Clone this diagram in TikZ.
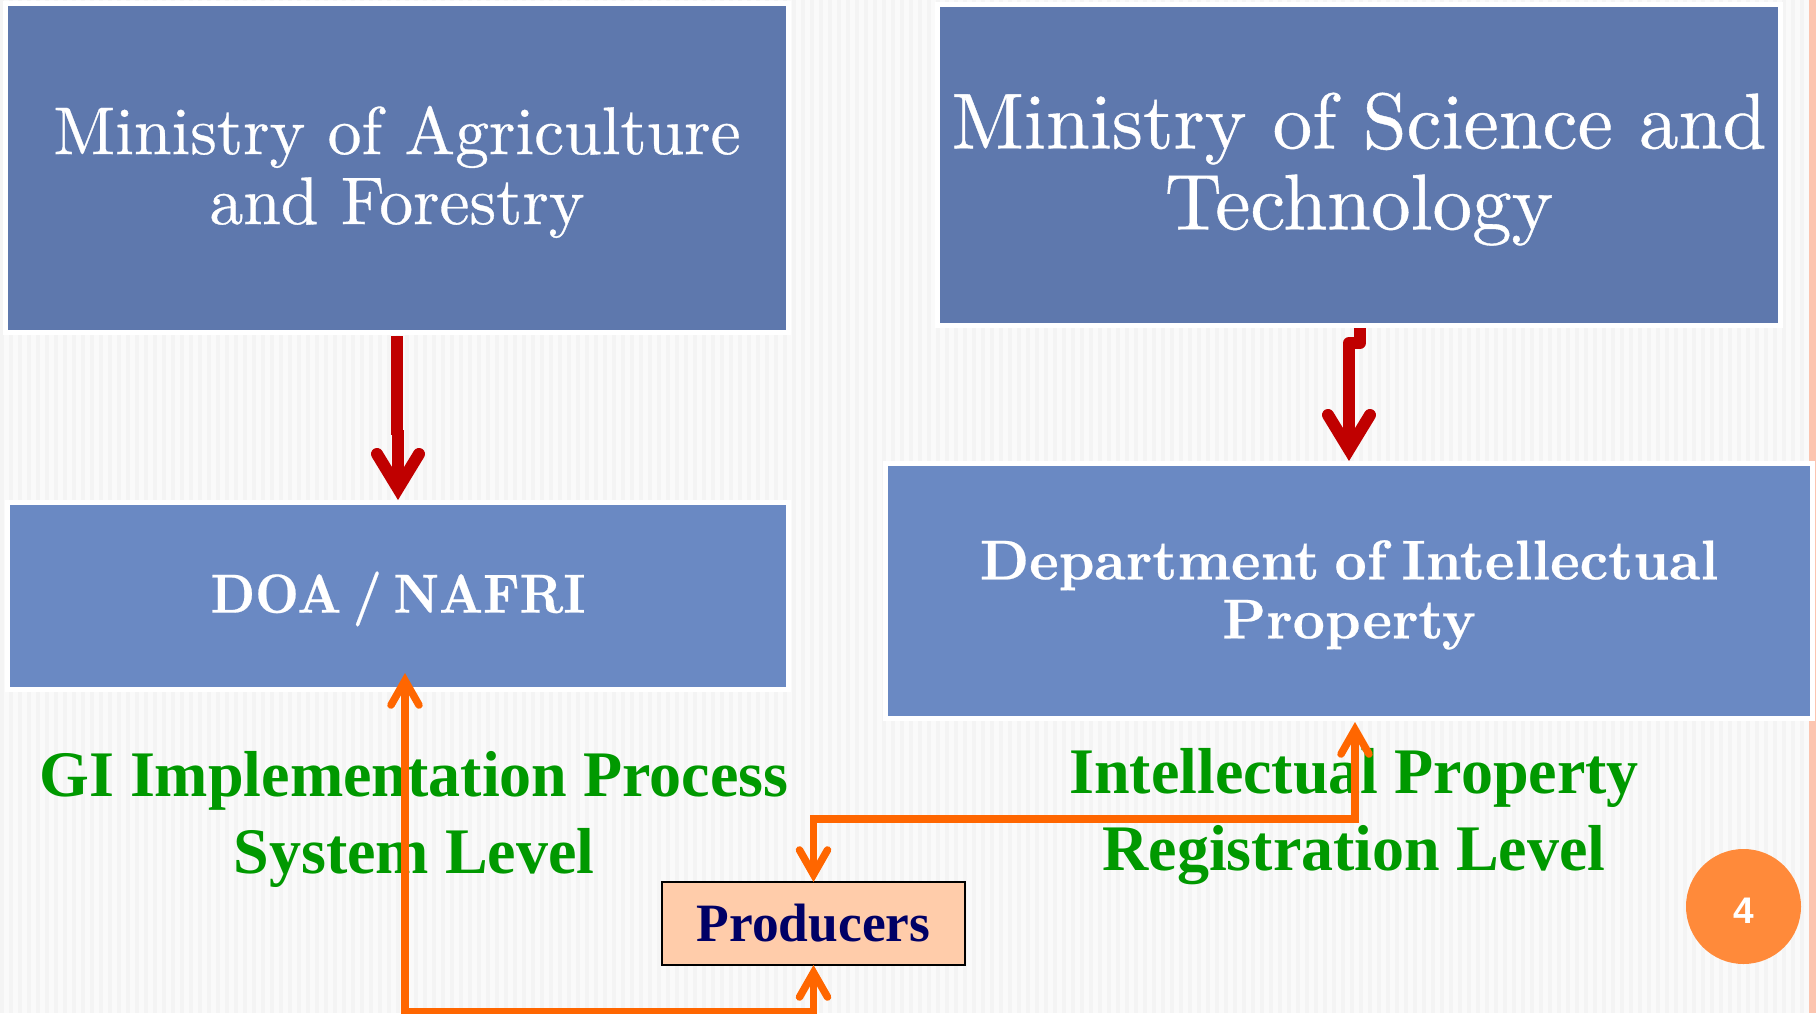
\documentclass[tikz,border=0pt]{standalone}
\usepackage{fontspec}
\usetikzlibrary{arrows.meta,calc}
\newfontfamily\lmface[FakeBold=0.5]{lmroman10-regular.otf}
\newfontfamily\lmdept[BoldFont=lmroman10-bold.otf,BoldFeatures={WordSpace=0.7,FakeBold=0.4}]{lmroman10-regular.otf}
\newfontfamily\lmdoa[BoldFont=lmroman10-bold.otf,BoldFeatures={WordSpace=0.6,FakeStretch=0.92,FakeBold=0.4}]{lmroman10-regular.otf}
\newfontfamily\timesgreen[FakeStretch=0.985]{Liberation Serif}
\newfontfamily\timesprod[FakeStretch=0.99]{Liberation Serif}
\newfontfamily\arialf{Liberation Sans}
\newcommand{\tstrut}[1]{\rule{0pt}{#1pt}}
\definecolor{bgc}{HTML}{FAFAFA}
\definecolor{stripec}{HTML}{F4F4F4}
\definecolor{stripr}{HTML}{FCC5B0}
\definecolor{darkb}{HTML}{5E78AD}
\definecolor{lightb}{HTML}{6A89C3}
\definecolor{redc}{HTML}{C00000}
\definecolor{orangec}{HTML}{FF6600}
\definecolor{greenc}{HTML}{009900}
\definecolor{navyc}{HTML}{000066}
\definecolor{peach}{HTML}{FFCCAA}
\definecolor{badge}{HTML}{FF8A3A}
\newcommand{\vmitercalc}{%
  \pgfmathsetlengthmacro\vmiter{\pgfarrowlinewidth*sqrt(\pgfarrowlength*\pgfarrowlength/10000+0.25*\pgfarrowwidth*\pgfarrowwidth/10000)*100/\pgfarrowwidth}%
  \pgfmathsetlengthmacro\vback{\vmiter+\pgfarrowlength}}
\pgfdeclarearrow{
  name=OpenV,
  parameters={\the\pgfarrowlength,\the\pgfarrowwidth,\the\pgfarrowlinewidth},
  setup code={
    \vmitercalc
    \pgfarrowssettipend{0pt}
    \pgfarrowssetlineend{-\vmiter}
    \pgfarrowssetvisualbackend{-\vmiter}
    \pgfarrowssetbackend{-\vback}
    \pgfarrowssavethe\pgfarrowlength
    \pgfarrowssavethe\pgfarrowwidth
    \pgfarrowssavethe\pgfarrowlinewidth
  },
  drawing code={
    \vmitercalc
    \pgfsetlinewidth{\pgfarrowlinewidth}
    \pgfsetroundcap
    \pgfsetmiterjoin
    \pgfsetdash{}{0pt}
    \pgfpathmoveto{\pgfpoint{-\vback}{0.5\pgfarrowwidth}}
    \pgfpathlineto{\pgfpoint{-\vmiter}{0pt}}
    \pgfpathlineto{\pgfpoint{-\vback}{-0.5\pgfarrowwidth}}
    \pgfusepathqstroke
  },
  defaults={length=30pt,width=30pt,line width=+0pt 1}
}
\tikzset{
  bluebox/.style={rectangle,draw=white,line width=5pt,outer sep=0pt,inner sep=0pt,align=center,text=white},
  ministry/.style={bluebox,fill=darkb},
  dept/.style={bluebox,fill=lightb},
  greentext/.style={align=center,text=greenc,inner sep=0pt,font=\fontsize{65}{77}\selectfont\timesgreen\bfseries},
  redarrow/.style={draw=redc,line width=12pt,line join=round,-{OpenV[length=34.5pt,width=42pt]}},
  orangearrow/.style={draw=orangec,line width=7.5pt,line join=miter,{OpenV[length=24.5pt,width=28pt]}-{OpenV[length=24.5pt,width=28pt]}}
}
\begin{document}
\begin{tikzpicture}[x=1pt,y=-1pt]
\useasboundingbox (0,0) rectangle (1816,1013);
\fill[bgc] (0,0) rectangle (1816,1013);
\foreach \i in {0,9,...,1810} {\fill[stripec] (\i,0) rectangle (\i+4,1013);}
\fill[stripr] (1809,0) rectangle (1816,1013);
\node[ministry,minimum width=783pt,minimum height=329pt,font=\fontsize{67.5}{70}\selectfont\lmface] (agri) at (397,168) {\tstrut{56}Ministry of Agriculture\\and Forestry};
\node[ministry,minimum width=843pt,minimum height=321pt,font=\fontsize{79}{81}\selectfont\lmface] (sci) at (1359,165) {\tstrut{64}Ministry of Science and\\Technology};
\node[dept,minimum width=781pt,minimum height=187pt,font=\fontsize{55}{60}\selectfont\lmdoa\bfseries] (doa) at (398,596) {\tstrut{47}DOA / NAFRI};
\node[dept,minimum width=927pt,minimum height=255pt,font=\fontsize{56}{59}\selectfont\lmdept\bfseries] (dip) at (1349,591) {\tstrut{47}Department of Intellectual\\Property};
\node[greentext] (gi) at (414,819) {\tstrut{46}GI Implementation Process\\System Level};
\node[greentext] (ip) at (1354,816) {\tstrut{46}Intellectual Property\\Registration Level};
\node[rectangle,draw=black,line width=2.5pt,fill=peach,outer sep=0pt,minimum width=303pt,minimum height=83pt,text=navyc,font=\fontsize{54}{56}\selectfont\timesprod\bfseries] (prod) at (813.5,923.5) {Producers};
\node[circle,fill=badge,minimum size=115pt,inner sep=0pt,text=white,font=\fontsize{37}{40}\selectfont\arialf\bfseries] (num) at (1743.5,906.5) {\tstrut{34}4};
\coordinate (c1) at (397,336);
\coordinate (c2) at (397,435);
\coordinate (c3) at (1360,328);
\coordinate (c4) at (1349,343);
\coordinate (c5) at (1355,819);
\coordinate (c6) at (405,1012);
\draw[draw=redc,line width=12pt] (c1) -- (c2);
\draw[redarrow,shorten >=2.5pt] (c2 -| doa.north) ++(0,-5) -- (doa.north);
\draw[redarrow,shorten >=2.5pt] (c3) -- (c3 |- c4) -- (c4) -- (dip.north -| c4);
\draw[orangearrow,shorten >=3.5pt] (prod.north) -- (prod.north |- c5) -- (c5) -- (c5 |- dip.south);
\draw[orangearrow,shorten >=-16.5pt] (prod.south) -- (prod.south |- c6) -- (c6) -- (c6 |- doa.south);
\end{tikzpicture}
\end{document}
